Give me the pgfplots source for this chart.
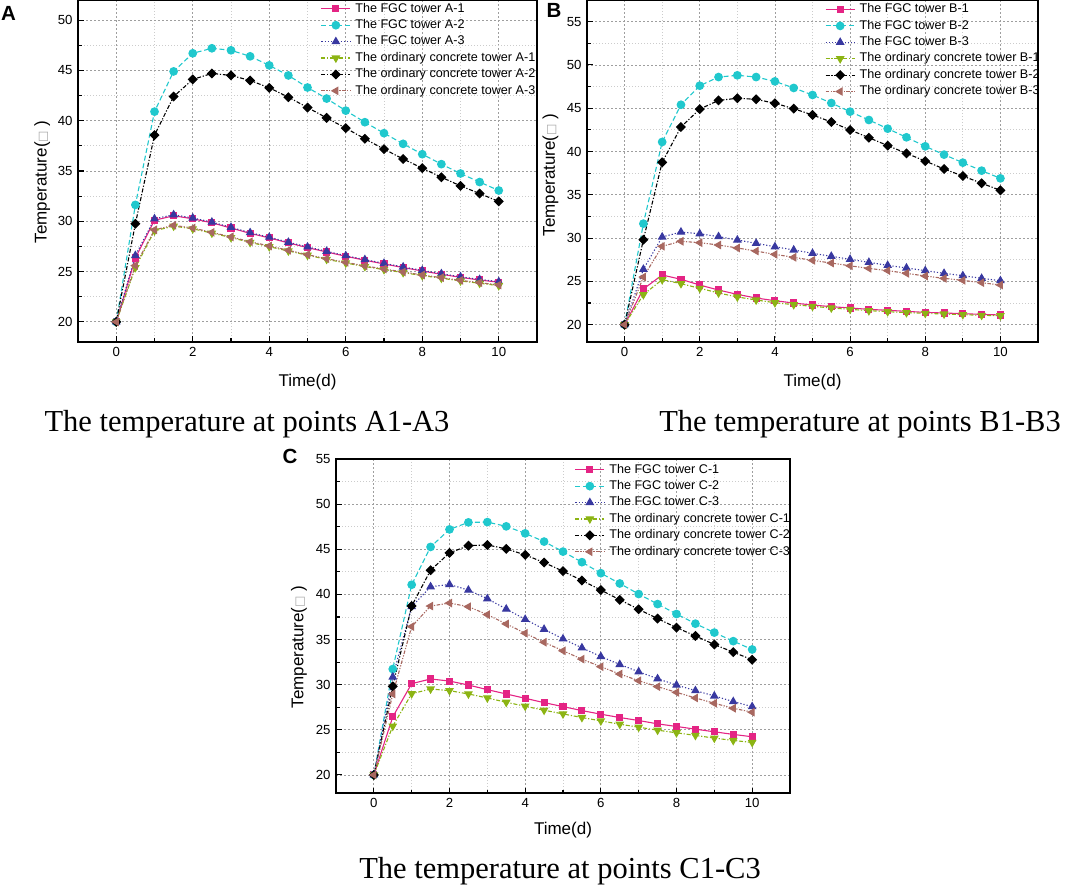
\documentclass[border=0pt]{standalone}
\usepackage{pgfplots}
\pgfplotsset{compat=1.18}
\usepackage{pgfplotstable}
\usepackage{fontspec}
\setmainfont{Liberation Sans}
\newfontfamily\serifcap{Liberation Serif}
\newfontfamily\dejavu{DejaVu Sans}

\definecolor{pinkc}{RGB}{228,36,132}
\definecolor{cyanc}{RGB}{32,200,205}
\definecolor{bluec}{RGB}{56,56,160}
\definecolor{greenc}{RGB}{140,180,20}
\definecolor{brownc}{RGB}{168,104,96}

\pgfplotstableread{
x f1 f2 f3 o1 o2 o3
0 20 20 20 20 20 20
0.5 26.35 31.63 26.6 25.4 29.75 25.6
1 30.1 40.9 30.25 29.05 38.56 29.15
1.5 30.55 44.9 30.65 29.52 42.4 29.6
2 30.25 46.7 30.33 29.25 44.1 29.33
2.5 29.85 47.2 29.92 28.83 44.7 28.9
3 29.33 47.0 29.4 28.38 44.5 28.45
3.5 28.8 46.4 28.87 27.9 44.0 27.97
4 28.35 45.5 28.42 27.47 43.27 27.55
4.5 27.85 44.5 27.92 27.05 42.34 27.12
5 27.38 43.3 27.45 26.62 41.31 26.68
5.5 26.95 42.2 27.02 26.22 40.28 26.28
6 26.52 41.0 26.58 25.85 39.26 25.92
6.5 26.13 39.85 26.19 25.5 38.2 25.56
7 25.76 38.76 25.82 25.2 37.17 25.26
7.5 25.4 37.7 25.46 24.9 36.2 24.96
8 25.06 36.67 25.12 24.6 35.28 24.66
8.5 24.73 35.68 24.79 24.34 34.38 24.4
9 24.43 34.75 24.49 24.07 33.52 24.13
9.5 24.16 33.9 24.22 23.84 32.76 23.9
10 23.94 33.06 24.0 23.6 31.97 23.67
}\dataA

\pgfplotstableread{
x f1 f2 f3 o1 o2 o3
0 20 20 20 20 20 20
0.5 24.12 31.67 26.4 23.47 29.82 25.5
1 25.74 41.1 30.13 25.2 38.75 29.05
1.5 25.24 45.4 30.7 24.74 42.83 29.63
2 24.58 47.6 30.5 24.2 44.9 29.47
2.5 24.0 48.6 30.17 23.66 45.9 29.2
3 23.5 48.8 29.78 23.2 46.15 28.86
3.5 23.08 48.6 29.4 22.85 46.03 28.5
4 22.77 48.1 29.0 22.54 45.57 28.12
4.5 22.5 47.34 28.63 22.31 44.95 27.78
5 22.27 46.53 28.24 22.12 44.22 27.43
5.5 22.08 45.6 27.9 21.93 43.41 27.12
6 21.93 44.6 27.55 21.77 42.49 26.8
6.5 21.77 43.64 27.2 21.62 41.6 26.5
7 21.66 42.64 26.85 21.5 40.68 26.24
7.5 21.54 41.64 26.55 21.39 39.79 25.93
8 21.42 40.6 26.24 21.31 38.9 25.62
8.5 21.35 39.64 25.93 21.23 37.98 25.35
9 21.27 38.71 25.66 21.16 37.17 25.12
9.5 21.19 37.79 25.35 21.08 36.33 24.85
10 21.12 36.9 25.08 21.04 35.52 24.58
}\dataB

\pgfplotstableread{
x f1 f2 f3 o1 o2 o3
0 20 20 20 20 20 20
0.5 26.43 31.73 30.85 25.4 29.82 28.97
1 30.11 41.07 38.64 29.0 38.71 36.43
1.5 30.63 45.26 40.85 29.52 42.68 38.71
2 30.4 47.2 41.1 29.34 44.6 39.04
2.5 29.96 47.98 40.48 28.97 45.4 38.64
3 29.45 48.01 39.52 28.53 45.48 37.76
3.5 28.97 47.54 38.38 28.05 45.04 36.73
4 28.49 46.76 37.24 27.61 44.38 35.7
4.5 28.01 45.85 36.14 27.17 43.53 34.7
5 27.57 44.74 35.07 26.76 42.57 33.75
5.5 27.13 43.57 34.08 26.36 41.54 32.83
6 26.73 42.35 33.12 25.99 40.48 31.99
6.5 26.36 41.21 32.24 25.62 39.4 31.18
7 26.03 40.04 31.43 25.29 38.35 30.44
7.5 25.66 38.93 30.66 24.96 37.32 29.78
8 25.37 37.83 29.96 24.67 36.32 29.15
8.5 25.07 36.76 29.34 24.38 35.4 28.53
9 24.78 35.77 28.75 24.08 34.45 27.94
9.5 24.49 34.82 28.13 23.82 33.6 27.39
10 24.23 33.9 27.57 23.6 32.76 26.95
}\dataC

\pgfplotsset{
 panel/.style={
  scale only axis,
  anchor=south west,
  xmin=-1, xmax=11, ymin=18,
  xtick={0,2,...,10},
  minor x tick num=1,
  minor y tick num=1,
  tick align=inside,
  tick pos=left,
  major tick length=5.5pt, minor tick length=3.5pt,
  grid=both,
  major grid style={dash pattern=on 2pt off 2pt, color=black!38, line width=0.8pt},
  minor grid style={dash pattern=on 1pt off 2pt, color=black!20, line width=0.8pt},
  axis line style={line width=1.3pt},
  every tick/.style={black, line width=1.1pt},
  /pgf/number format/assume math mode=true,
  tick label style={font=\fontsize{13.2}{14}\selectfont},
  xticklabel style={yshift=-2pt},
  yticklabel style={xshift=-2pt},
  label style={font=\fontsize{17}{19}\selectfont},
  xlabel={Time(d)},
  ylabel={Temperature({\dejavu\fontsize{12}{12}\selectfont\textcolor{black!35}{□}} )},
  legend style={draw=none, fill=none, anchor=north west, inner sep=0pt, outer sep=0pt,
    font=\fontsize{12.6}{14}\selectfont, row sep=4.9pt,
    nodes={inner sep=0pt, inner xsep=4.4pt, text height=9pt, text depth=2.5pt}},
  legend cell align=left,
  legend image code/.code={\draw[mark repeat=2,mark phase=2,##1] plot coordinates {(0pt,0pt) (14.5pt,0pt) (29pt,0pt)};},
 },
 s1/.style={color=pinkc, solid, line width=1.1pt, mark=square*, mark size=3.0pt, mark options={solid}},
 s2/.style={color=cyanc, dash pattern=on 5pt off 2.8pt, line width=1.1pt, mark=*, mark size=3.8pt, mark options={solid}},
 s3/.style={color=bluec, dash pattern=on 1.2pt off 2pt, line width=1.1pt, mark=triangle*, mark size=4.0pt, mark options={solid}},
 s4/.style={color=greenc, dash pattern=on 4pt off 1.8pt on 1.2pt off 1.8pt, line width=1.1pt, mark=triangle*, mark size=4.0pt, mark options={solid, rotate=180}},
 s5/.style={color=black, dash pattern=on 4pt off 1.8pt on 1.2pt off 1.8pt, line width=1.1pt, mark=square*, mark size=3.0pt, mark options={solid, rotate=45}},
 s6/.style={color=brownc, dash pattern=on 3.5pt off 1.5pt on 1.2pt off 1.5pt on 1.2pt off 1.5pt, line width=1.1pt, mark=triangle*, mark size=4.0pt, mark options={solid, rotate=90}},
}

\begin{document}
\begin{tikzpicture}[x=1pt,y=1pt]
\path[use as bounding box] (0,0) rectangle (1079,889);

% Panel A
\begin{axis}[panel, at={(78pt,547pt)}, width=459pt, height=342pt,
  ymax=52, ytick={20,25,...,50},
  xlabel style={at={(axis description cs:0.5,-0.116)}, anchor=center},
  ylabel style={at={(axis description cs:-0.078,0.468)}, anchor=center},
  legend style={at={(0.529,0.991)}}]
\addplot[s1] table[x=x,y=f1] {\dataA}; \addlegendentry{The FGC tower A-1}
\addplot[s2] table[x=x,y=f2] {\dataA}; \addlegendentry{The FGC tower A-2}
\addplot[s3] table[x=x,y=f3] {\dataA}; \addlegendentry{The FGC tower A-3}
\addplot[s4] table[x=x,y=o1] {\dataA}; \addlegendentry{The ordinary concrete tower A-1}
\addplot[s5] table[x=x,y=o2] {\dataA}; \addlegendentry{The ordinary concrete tower A-2}
\addplot[s6] table[x=x,y=o3] {\dataA}; \addlegendentry{The ordinary concrete tower A-3}
\end{axis}

% Panel B
\begin{axis}[panel, at={(587pt,547pt)}, width=451pt, height=342pt,
  ymax=57.5, ytick={20,25,...,55},
  xlabel style={at={(axis description cs:0.5,-0.116)}, anchor=center},
  ylabel style={at={(axis description cs:-0.081,0.488)}, anchor=center},
  legend style={at={(0.528,0.989)}}]
\addplot[s1] table[x=x,y=f1] {\dataB}; \addlegendentry{The FGC tower B-1}
\addplot[s2] table[x=x,y=f2] {\dataB}; \addlegendentry{The FGC tower B-2}
\addplot[s3] table[x=x,y=f3] {\dataB}; \addlegendentry{The FGC tower B-3}
\addplot[s4] table[x=x,y=o1] {\dataB}; \addlegendentry{The ordinary concrete tower B-1}
\addplot[s5] table[x=x,y=o2] {\dataB}; \addlegendentry{The ordinary concrete tower B-2}
\addplot[s6] table[x=x,y=o3] {\dataB}; \addlegendentry{The ordinary concrete tower B-3}
\end{axis}

% Panel C
\begin{axis}[panel, at={(336pt,96pt)}, width=454pt, height=334pt,
  ymax=55, ytick={20,25,...,55},
  xlabel style={at={(axis description cs:0.5,-0.111)}, anchor=center},
  ylabel style={at={(axis description cs:-0.0815,0.437)}, anchor=center},
  legend style={at={(0.526,0.985)}}]
\addplot[s1] table[x=x,y=f1] {\dataC}; \addlegendentry{The FGC tower C-1}
\addplot[s2] table[x=x,y=f2] {\dataC}; \addlegendentry{The FGC tower C-2}
\addplot[s3] table[x=x,y=f3] {\dataC}; \addlegendentry{The FGC tower C-3}
\addplot[s4] table[x=x,y=o1] {\dataC}; \addlegendentry{The ordinary concrete tower C-1}
\addplot[s5] table[x=x,y=o2] {\dataC}; \addlegendentry{The ordinary concrete tower C-2}
\addplot[s6] table[x=x,y=o3] {\dataC}; \addlegendentry{The ordinary concrete tower C-3}
\end{axis}

% panel letters
\node[font=\fontsize{20.5}{22}\bfseries] at (8.5pt,876pt) {A};
\node[font=\fontsize{20.5}{22}\bfseries] at (554pt,879pt) {B};
\node[font=\fontsize{20.5}{22}\bfseries] at (290pt,433pt) {C};

% captions
\node[font=\serifcap\fontsize{30.5}{33}\selectfont, anchor=base, inner sep=0pt] at (247pt,457pt) {The temperature at points A1-A3};
\node[font=\serifcap\fontsize{30.5}{33}\selectfont, anchor=base, inner sep=0pt] at (860pt,457pt) {The temperature at points B1-B3};
\node[font=\serifcap\fontsize{30.5}{33}\selectfont, anchor=base, inner sep=0pt] at (560pt,11pt) {The temperature at points C1-C3};
\end{tikzpicture}
\end{document}
